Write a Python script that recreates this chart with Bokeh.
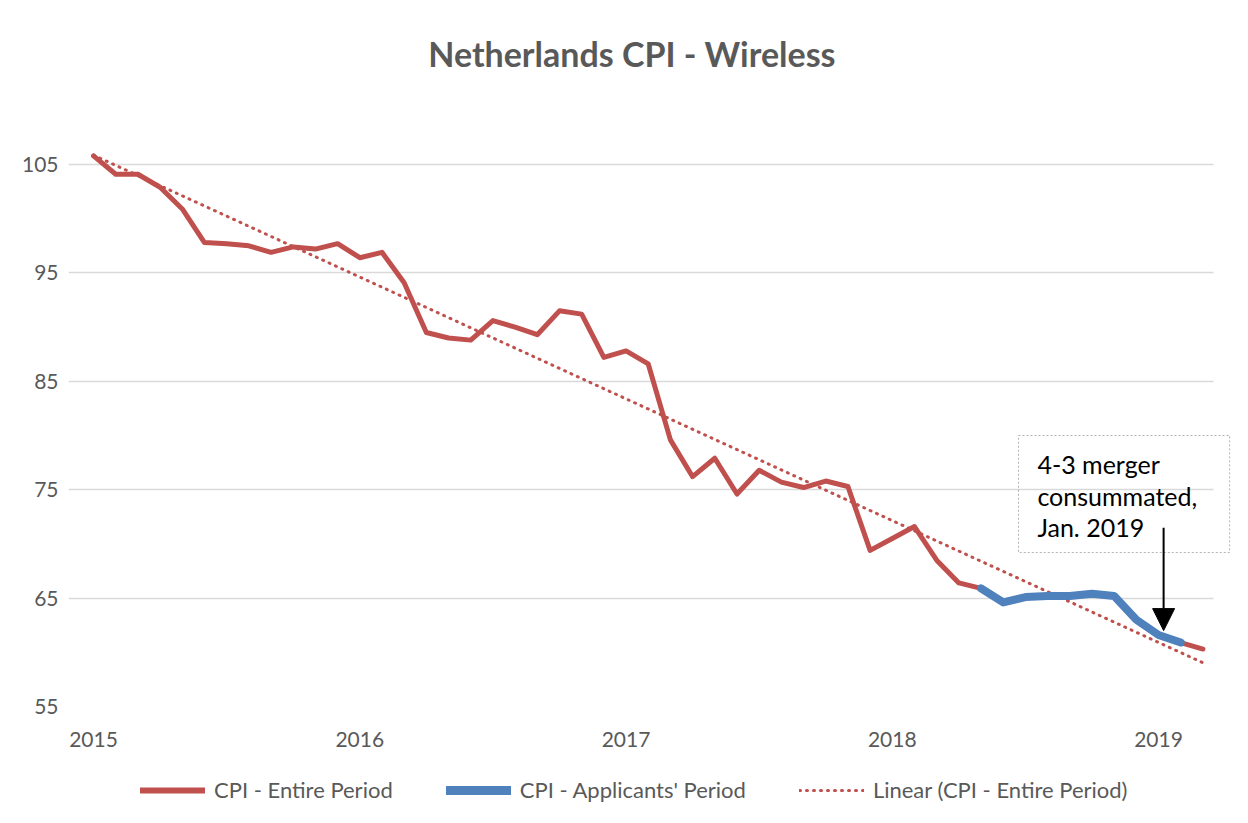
import numpy as np
import pandas as pd
from bokeh.plotting import figure
from bokeh.layouts import column
from bokeh.models import (FixedTicker, Legend, LegendItem, Label, BoxAnnotation,
                          Arrow, NormalHead, Range1d)
from bokeh.embed import file_html
from bokeh.resources import INLINE

# ---------------- data ----------------
start_month = "2015-01-01"
cpi_entire = [105.8, 104.1, 104.1, 102.9, 100.9, 97.8, 97.7, 97.5, 96.9, 97.4, 97.2, 97.7,
              96.4, 96.9, 94.1, 89.5, 89.0, 88.8, 90.6, 90.0, 89.3, 91.5, 91.2, 87.2,
              87.8, 86.6, 79.6, 76.2, 77.9, 74.6, 76.8, 75.7, 75.2, 75.8, 75.3, 69.4,
              70.5, 71.6, 68.5, 66.4, 65.9, 64.6, 65.1, 65.2, 65.2, 65.4, 65.2, 63.0,
              61.6, 60.9, 60.3]
applicants_start = "2018-05-01"
applicants_end = "2019-02-01"
year_ticks = [2015, 2016, 2017, 2018, 2019]
y_ticks = [55, 65, 75, 85, 95, 105]
series_names = ["CPI - Entire Period", "CPI - Applicants' Period", "Linear (CPI - Entire Period)"]
title_text = "Netherlands CPI - Wireless"
note_text = "4-3 merger\nconsummated,\nJan. 2019"

months = pd.date_range(start_month, periods=len(cpi_entire), freq="MS")
x = np.array(months.year + (months.month - 1) / 12.0)
y = np.array(cpi_entire)
mask = (months >= pd.Timestamp(applicants_start)) & (months <= pd.Timestamp(applicants_end))
xa, ya = x[mask], y[mask]
coef = np.polyfit(x, y, 1)
trend = np.polyval(coef, x)

RED = "#C0504D"
BLUE = "#4F81BD"
GRAY = "#595959"
FONT = "Lato"
W = 1240

X_LEFT, X_GRID_END, X_RIGHT = 2014.906, 2019.2066, 2019.289

# ---------------- title strip (frame aligned with main chart frame) ----------------
t = figure(width=W, height=100, output_backend="svg", toolbar_location=None,
           x_range=Range1d(68, 1235), y_range=Range1d(0, 100),
           min_border_left=0, min_border_right=0, min_border_top=0, min_border_bottom=0)
t.axis.visible = False
t.grid.visible = False
t.outline_line_color = None
t.border_fill_color = "white"
t.add_layout(Label(x=631.5, y=47, text=title_text, text_font=FONT, text_font_size="34px",
                   text_font_style="bold", text_color=GRAY, text_align="center",
                   text_baseline="middle"))

# ---------------- main chart ----------------
p = figure(width=W, height=660, output_backend="svg", toolbar_location=None,
           x_range=Range1d(X_LEFT, X_RIGHT), y_range=Range1d(55, 109.06),
           min_border_left=68, min_border_right=5, min_border_top=20,
           min_border_bottom=54)
p.outline_line_color = None
p.background_fill_color = "white"
p.border_fill_color = "white"

p.xaxis.ticker = FixedTicker(ticks=year_ticks)
p.yaxis.ticker = FixedTicker(ticks=y_ticks)
for ax in (p.xaxis[0], p.yaxis[0]):
    ax.axis_line_color = None
    ax.major_tick_line_color = None
    ax.minor_tick_line_color = None
    ax.major_tick_out = 0
    ax.major_tick_in = 0
    ax.minor_tick_out = 0
    ax.major_label_text_font = FONT
    ax.major_label_text_font_size = "21px"
    ax.major_label_text_color = GRAY
p.xaxis.major_label_standoff = 25
p.yaxis.major_label_standoff = 10
p.xgrid.grid_line_color = None
p.ygrid.grid_line_color = "#D9D9D9"
p.ygrid.grid_line_width = 1.5
p.ygrid.cross_bounds = (X_LEFT, X_GRID_END)

p.line(x, trend, line_color=RED, line_width=3, line_dash="1 6", line_cap="round")
p.line(x, y, line_color=RED, line_width=5, line_join="round", line_cap="round")
p.line(xa, ya, line_color=BLUE, line_width=8, line_join="round", line_cap="round")

box = BoxAnnotation(left=2018.474, right=2019.267, top=80.0, bottom=69.21,
                    fill_alpha=0, line_color="black", line_width=1, line_dash="2 2")
p.add_layout(box)
p.add_layout(Label(x=2018.545, y=78.75, text=note_text, text_font=FONT,
                   text_font_size="25px", text_color="black", text_align="left",
                   text_baseline="top", text_line_height=1.05))
p.add_layout(Arrow(end=NormalHead(size=22, fill_color="black", line_color="black"),
                   x_start=2019.019, y_start=71.5, x_end=2019.019, y_end=62.0,
                   line_color="black", line_width=2))

# ---------------- legend strip ----------------
q = figure(width=W, height=55, output_backend="svg", toolbar_location=None,
           x_range=Range1d(0, 1), y_range=Range1d(0, 1),
           min_border_left=0, min_border_right=0, min_border_top=0, min_border_bottom=0)
q.axis.visible = False
q.grid.visible = False
q.outline_line_color = None
q.border_fill_color = "white"
lr1 = q.line(x, y, line_color=RED, line_width=6, line_cap="round")
lr2 = q.line(xa, ya, line_color=BLUE, line_width=9, line_cap="round")
lr3 = q.line(x, trend, line_color=RED, line_width=3, line_dash="1 6", line_cap="round")

legend = Legend(items=[LegendItem(label=series_names[0], renderers=[lr1]),
                       LegendItem(label=series_names[1], renderers=[lr2]),
                       LegendItem(label=series_names[2], renderers=[lr3])],
                orientation="horizontal", location=(72, 12))
legend.border_line_color = None
legend.background_fill_alpha = 0
legend.padding = 0
legend.margin = 0
legend.spacing = 53
legend.glyph_width = 65
legend.glyph_height = 20
legend.label_height = 20
legend.label_standoff = 9
legend.label_text_font = FONT
legend.label_text_font_size = "22px"
legend.label_text_color = GRAY
q.add_layout(legend)

layout = column(t, p, q, spacing=0)
open("out.html", "w").write(file_html(layout, INLINE))
